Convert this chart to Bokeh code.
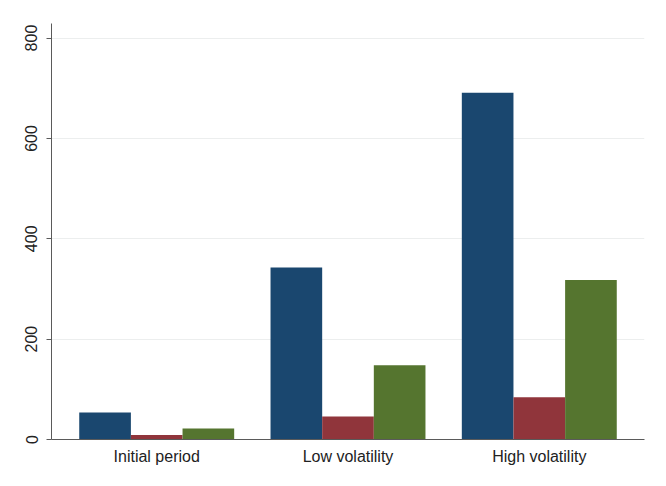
from bokeh.plotting import figure
from bokeh.models import ColumnDataSource, FactorRange, Range1d, FixedTicker
from bokeh.transform import dodge
from bokeh.embed import file_html
from bokeh.resources import INLINE

categories = ["Initial period", "Low volatility", "High volatility"]
series_a = [54, 343, 691]
series_b = [9, 46, 84]
series_c = [22, 148, 318]
y_ticks = [0, 200, 400, 600, 800]

colors = ["#1a476f", "#90353b", "#55752f"]

source = ColumnDataSource(data=dict(cat=categories, a=series_a, b=series_b, c=series_c))

p = figure(
    x_range=FactorRange(*categories, range_padding=0.05, range_padding_units="absolute"),
    y_range=Range1d(0, 829),
    width=658, height=478,
    output_backend="svg", toolbar_location=None,
    min_border_left=51, min_border_right=14, min_border_top=23, min_border_bottom=39,
)

bw = 0.27
for col, off, color in zip(["a", "b", "c"], [-bw, 0, bw], colors):
    p.vbar(x=dodge("cat", off, range=p.x_range), top=col, width=bw, bottom=0,
           source=source, fill_color=color, line_color=None)

p.outline_line_color = None
p.background_fill_color = "white"
p.border_fill_color = "white"

p.xgrid.grid_line_color = None
p.ygrid.grid_line_color = "#eceeee"
p.ygrid.grid_line_width = 1

p.yaxis.ticker = FixedTicker(ticks=y_ticks)
p.yaxis.major_label_orientation = "vertical"
p.yaxis.major_label_text_font = "Liberation Sans"
p.yaxis.major_label_text_font_size = "16px"
p.yaxis.major_label_text_color = "#222222"
p.yaxis.major_label_standoff = 9
p.yaxis.major_tick_out = 5
p.yaxis.major_tick_in = 0
p.yaxis.minor_tick_line_color = None
p.yaxis.axis_line_color = "#5a5a5a"
p.yaxis.major_tick_line_color = "#5a5a5a"

p.xaxis.major_label_text_font = "Liberation Sans"
p.xaxis.major_label_text_font_size = "16px"
p.xaxis.major_label_text_color = "#222222"
p.xaxis.major_tick_line_color = None
p.xaxis.major_tick_out = 0
p.xaxis.major_label_standoff = 8
p.xaxis.axis_line_color = "#5a5a5a"

open("out.html", "w").write(file_html(p, INLINE))
